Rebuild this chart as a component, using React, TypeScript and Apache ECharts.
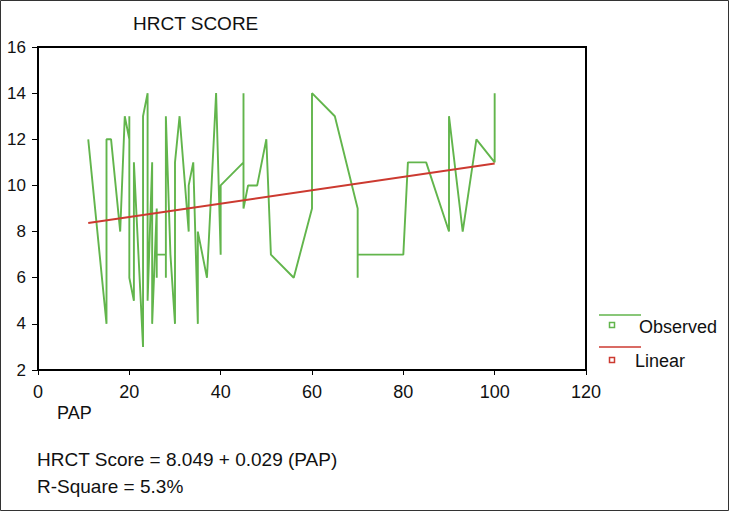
import React, { useEffect, useRef } from "react";
import * as echarts from "echarts";

const FONT = "'Liberation Sans', Arial, sans-serif";

// Observed HRCT score vs PAP (in drawing order)
const observedPAP = [
  11, 15, 15, 16, 18, 19, 20, 20, 20, 21, 21, 23, 23, 24, 24, 25, 25, 26, 26, 26,
  28, 28, 28, 29, 30, 30, 31, 33, 33, 34, 35, 35, 37, 39, 40, 40, 45, 45, 45, 46,
  48, 50, 51, 56, 60, 60, 65, 70, 70, 70, 80, 81, 85, 90, 90, 93, 96, 100, 100,
];
const observedScore = [
  12, 4, 12, 12, 8, 13, 12, 13, 6, 5, 11, 3, 13, 14, 5, 11, 4, 9, 6, 7,
  7, 6, 13, 7, 4, 11, 13, 8, 10, 11, 4, 8, 6, 14, 7, 10, 11, 14, 9, 10,
  10, 12, 7, 6, 9, 14, 13, 9, 6, 7, 7, 11, 11, 8, 13, 8, 12, 11, 14,
];

// Linear fit endpoints (HRCT Score = 8.049 + 0.029 PAP)
const linearPAP = [11, 100];
const linearScore = [8.37, 10.95];

const xTicks = { min: 0, max: 120, interval: 20 };
const yTicks = { min: 2, max: 16, interval: 2 };

const titleText = "HRCT SCORE";
const xAxisName = "PAP";
const equationText = "HRCT Score = 8.049 + 0.029 (PAP)";
const rSquareText = "R-Square = 5.3%";
const legendNames = ["Observed", "Linear"];

const GREEN = "#62b54c";
const RED = "#cc3a30";

export default function App() {
  const ref = useRef<HTMLDivElement>(null);

  useEffect(() => {
    if (!ref.current) return;
    const chart = echarts.init(ref.current, null, { renderer: "svg" });

    const observed = observedPAP.map((x, i) => [x, observedScore[i]]);
    const linear = linearPAP.map((x, i) => [x, linearScore[i]]);

    chart.setOption({
      animation: false,
      backgroundColor: "#ffffff",
      title: {
        text: titleText,
        left: 128,
        top: 9,
        textStyle: { fontFamily: FONT, fontSize: 19, fontWeight: "normal", color: "#111" },
      },
      grid: {
        left: 38,
        top: 47,
        width: 548,
        height: 323,
        show: true,
        borderColor: "#000",
        borderWidth: 2,
        backgroundColor: "transparent",
      },
      xAxis: {
        type: "value",
        min: xTicks.min,
        max: xTicks.max,
        interval: xTicks.interval,
        axisLine: { show: true, onZero: false, lineStyle: { color: "#000", width: 2 } },
        axisTick: { show: true, inside: false, length: 5, lineStyle: { color: "#000", width: 1 } },
        splitLine: { show: false },
        axisLabel: { fontFamily: FONT, fontSize: 18, color: "#111", margin: 13 },
      },
      yAxis: {
        type: "value",
        min: yTicks.min,
        max: yTicks.max,
        interval: yTicks.interval,
        axisLine: { show: true, onZero: false, lineStyle: { color: "#000", width: 2 } },
        axisTick: { show: true, inside: false, length: 6, lineStyle: { color: "#000", width: 1 } },
        splitLine: { show: false },
        axisLabel: { fontFamily: FONT, fontSize: 17, color: "#111", margin: 12 },
      },
      series: [
        {
          name: legendNames[0],
          type: "line",
          data: observed,
          showSymbol: false,
          symbol: "none",
          lineStyle: { color: GREEN, width: 1.9 },
          itemStyle: { color: GREEN },
          z: 2,
        },
        {
          name: legendNames[1],
          type: "line",
          data: linear,
          showSymbol: false,
          symbol: "none",
          lineStyle: { color: RED, width: 2 },
          itemStyle: { color: RED },
          z: 3,
        },
      ],
      graphic: [
        {
          type: "rect",
          shape: { x: 0.5, y: 0.5, width: 728, height: 510 },
          style: { fill: "none", stroke: "#333", lineWidth: 1 },
          silent: true,
        },
        {
          type: "text",
          x: 57,
          y: 413,
          style: { text: xAxisName, fontFamily: FONT, fontSize: 18, fill: "#111", textAlign: "left", textVerticalAlign: "middle" },
        },
        {
          type: "text",
          x: 37,
          y: 459,
          style: { text: equationText, fontFamily: FONT, fontSize: 19, fill: "#111", textAlign: "left", textVerticalAlign: "middle" },
        },
        {
          type: "text",
          x: 37,
          y: 486,
          style: { text: rSquareText, fontFamily: FONT, fontSize: 19, fill: "#111", textAlign: "left", textVerticalAlign: "middle" },
        },
        // legend: Observed
        {
          type: "line",
          shape: { x1: 599, y1: 315, x2: 641, y2: 315 },
          style: { stroke: GREEN, lineWidth: 1.5 },
        },
        {
          type: "rect",
          shape: { x: 609.5, y: 322.5, width: 5, height: 5 },
          style: { fill: "none", stroke: GREEN, lineWidth: 1.5 },
        },
        {
          type: "text",
          x: 639,
          y: 327,
          style: { text: legendNames[0], fontFamily: FONT, fontSize: 18, fill: "#111", textAlign: "left", textVerticalAlign: "middle" },
        },
        // legend: Linear
        {
          type: "line",
          shape: { x1: 599, y1: 347, x2: 641, y2: 347 },
          style: { stroke: RED, lineWidth: 1.5 },
        },
        {
          type: "rect",
          shape: { x: 609.5, y: 357.5, width: 5, height: 5 },
          style: { fill: "none", stroke: RED, lineWidth: 1.5 },
        },
        {
          type: "text",
          x: 635,
          y: 361,
          style: { text: legendNames[1], fontFamily: FONT, fontSize: 18, fill: "#111", textAlign: "left", textVerticalAlign: "middle" },
        },
      ],
    });

    return () => chart.dispose();
  }, []);

  return (
    <div
      ref={ref}
      style={{ position: "fixed", left: 0, top: 0, width: 729, height: 511, background: "#fff" }}
    />
  );
}
